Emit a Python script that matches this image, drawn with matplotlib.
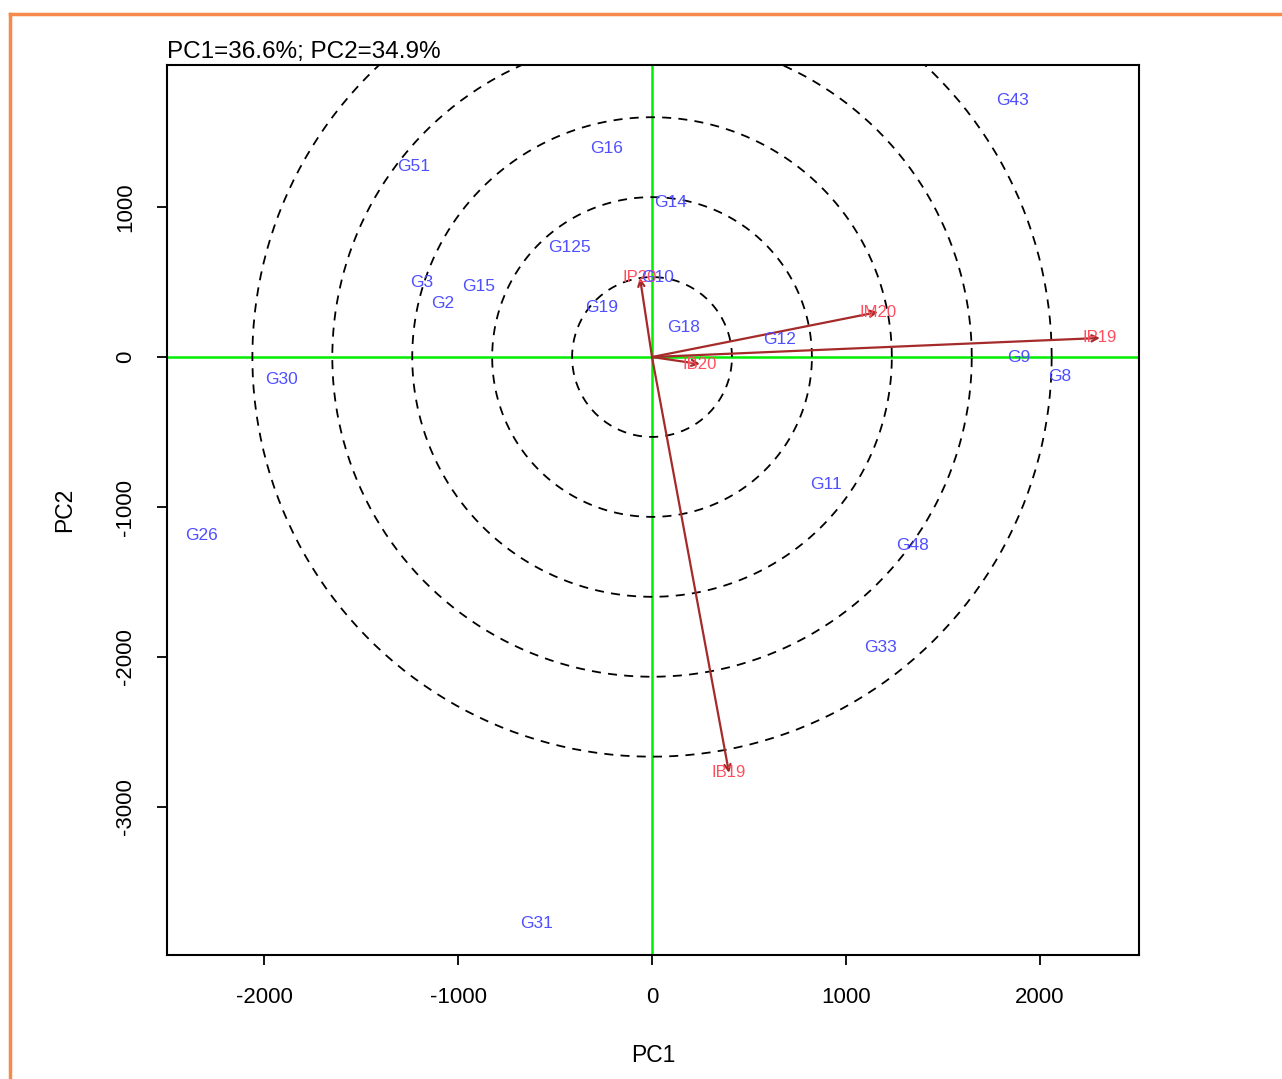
import numpy as np
import matplotlib.pyplot as plt
from matplotlib.lines import Line2D

plt.rcParams['font.family'] = ['Liberation Sans', 'DejaVu Sans']

# genotype scores (PC1, PC2)
gen_names = ['G43', 'G16', 'G51', 'G14', 'G125', 'G10', 'G3', 'G15', 'G2', 'G19',
             'G18', 'G12', 'G9', 'G8', 'G30', 'G11', 'G48', 'G26', 'G33', 'G31']
gen_pc1 = [1856, -232, -1227, 93, -428, 26, -1186, -892, -1077, -258,
           165, 655, 1892, 2103, -1912, 897, 1340, -2320, 1180, -593]
gen_pc2 = [1713, 1393, 1267, 1027, 727, 533, 500, 473, 360, 333,
           200, 120, 0, -127, -147, -847, -1260, -1193, -1940, -3780]

# environment vectors
env_names = ['IP20', 'IM20', 'IP19', 'IB20', 'IB19']
env_pc1 = [-62, 1165, 2309, 247, 397]
env_pc2 = [527, 300, 127, -47, -2773]

n_rings = 5
ring_step = 412  # in PC1 units

W, H = 1282, 1079
fig = plt.figure(figsize=(W / 100, H / 100), dpi=100)
ax_l, ax_b = 167 / W, 1 - 955 / H
ax_w, ax_h = (1139 - 167) / W, (955 - 65) / H
ax = fig.add_axes([ax_l, ax_b, ax_w, ax_h])

xlim = (-2500, 2510)
ylim = (-3987, 1947)
ax.set_xlim(*xlim)
ax.set_ylim(*ylim)

# rings drawn round in pixel space
px_x = W * ax_w / (xlim[1] - xlim[0])
px_y = H * ax_h / (ylim[1] - ylim[0])
yfac = px_x / px_y
t = np.linspace(0, 2 * np.pi, 200)
for k in range(1, n_rings + 1):
    r = ring_step * k
    ax.plot(r * np.cos(t), r * yfac * np.sin(t), color='black', lw=1.3,
            linestyle=(0, (5, 4)), zorder=2)

ax.axhline(0, color='#00ee00', lw=1.8, zorder=1)
ax.axvline(0, color='#00ee00', lw=1.8, zorder=1)

for name, x, y in zip(env_names, env_pc1, env_pc2):
    ax.annotate('', xy=(x, y), xytext=(0, 0),
                arrowprops=dict(arrowstyle='->', color='#a52a2a', lw=1.6,
                                mutation_scale=11, shrinkA=0, shrinkB=0),
                zorder=3)
    ax.text(x, y, name, color='#ff4f5f', fontsize=12, ha='center', va='center', zorder=4)

for name, x, y in zip(gen_names, gen_pc1, gen_pc2):
    ax.text(x, y, name, color='#4f4fff', fontsize=12.5, ha='center', va='center', zorder=5)

ax.set_xticks([-2000, -1000, 0, 1000, 2000])
ax.set_yticks([-3000, -2000, -1000, 0, 1000])
ax.set_xticklabels(['-2000', '-1000', '0', '1000', '2000'])
ax.set_yticklabels(['-3000', '-2000', '-1000', '0', '1000'])
ax.tick_params(axis='both', direction='out', length=7, width=1.3, labelsize=16)
ax.tick_params(axis='x', pad=16)
ax.tick_params(axis='y', pad=15)
for lab in ax.get_yticklabels():
    lab.set_rotation(90)
    lab.set_va('center')
for s in ax.spines.values():
    s.set_linewidth(1.5)

ax.set_xlabel('PC1', fontsize=16.5, labelpad=26)
ax.set_ylabel('PC2', fontsize=16.5, labelpad=28)
ax.text(0, 1.002, 'PC1=36.6%; PC2=34.9%', transform=ax.transAxes,
        ha='left', va='bottom', fontsize=17.5)

# orange frame
fig.add_artist(Line2D([10 / W, 1], [1 - 14 / H, 1 - 14 / H], color='#f58a4b', lw=2.5))
fig.add_artist(Line2D([10 / W, 10 / W], [0, 1 - 14 / H], color='#f58a4b', lw=2.5))

fig.savefig('out.png', dpi=100)
